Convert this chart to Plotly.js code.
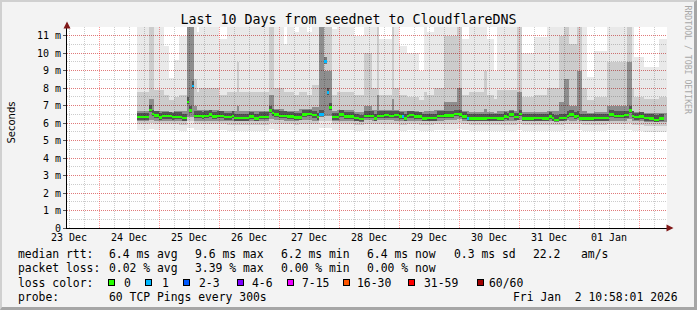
<!DOCTYPE html>
<html><head><meta charset="utf-8">
<script src="https://cdn.plot.ly/plotly-3.0.1.min.js"></script>
<style>
html,body{margin:0;padding:0;background:#f3f3f3;}
#wrap{position:relative;width:697px;height:310px;overflow:hidden;}
#chart{position:absolute;left:0;top:0;width:697px;height:310px;}
#frame{position:absolute;left:0;top:0;width:697px;height:310px;box-sizing:border-box;border-top:2px solid #d0d0d0;border-left:2px solid #d0d0d0;border-right:3px solid #a6a6a6;border-bottom:3px solid #a6a6a6;pointer-events:none;}
</style></head>
<body><div id="wrap"><div id="chart"></div><div id="frame"></div></div>
<script>
// ---------------- DATA ----------------
const titleText = 'Last 10 Days from seednet to CloudflareDNS';
const yTickVals = [0,1,2,3,4,5,6,7,8,9,10,11];
const yTickText = ['0','1 m','2 m','3 m','4 m','5 m','6 m','7 m','8 m','9 m','10 m','11 m'];

// median rtt (ms): step segments, start hour counted from 24 Dec 00:00
const medHour = [15,20,21,22,24,25,29,30,33,35,36,37,38,41,42,44,45,47,50,53,54,60,62,64,68,69,70,72,75,78,81,83,85,87,88,90,91,92,93,96,98,102,104,106,110,111,114,116,118,120,121,122,123,124,126,129,131,135,138,142,144,145,147,148,155,159,162,163,164,166,168,169,174,177,180,181,182,184,187,188,190,191,192,198,204,206,210,212,213,214,216,218,220,222,224];
const medMs = [6.35,6.76,6.53,6.44,6.32,6.40,6.34,6.36,6.29,7.22,6.72,8.14,6.42,6.38,6.42,6.49,6.38,6.42,6.34,6.42,6.30,6.38,6.27,6.36,6.72,6.58,6.49,6.42,6.38,6.32,6.49,6.53,6.45,6.34,6.49,9.53,7.75,6.90,6.34,6.49,6.38,6.30,6.23,6.42,6.27,6.42,6.45,6.42,6.45,6.38,6.38,6.27,6.42,6.45,6.38,6.27,6.30,6.42,6.44,6.53,6.49,6.38,6.27,6.27,6.30,6.27,6.38,6.34,6.49,6.34,6.53,6.27,6.30,6.27,6.38,6.30,6.19,6.30,6.42,6.49,6.38,6.42,6.27,6.30,6.49,6.42,6.45,6.72,6.42,6.34,6.38,6.30,6.27,6.19,6.27];
const medLoss = [0,0,0,0,0,0,0,0,0,0, 0,1,0,0,0,0,0,0,0,0, 0,0,0,0,0,0,0,0,0,0, 0,0,0,0,1,1,1,0,0,0, 0,0,0,0,0,0,0,0,0,0, 1,0,0,0,0,0,0,0,0,0, 0,0,1,0,0,0,0,0,0,0, 0,0,0,0,0,0,0,0,0,0, 0,0,0,0,0,0,0,0,0,0, 0,0,0,0,0];
const medEndHour = 226;

// smoke (ping distribution) segments, start hour from 24 Dec 00:00
const smokeHour = [15,20,22,26,28,30,32,35,38,39,40,48,51,55,56,68,70,74,75,78,80,83,85,88,90,93,95,102,106,109,111,112,117,118,120,123,128,130,131,134,138,143,145,148,154,155,158,159,167,169,174,179,184,186,188,191,193,195,198,203,211,213,214,218,224];
const smokeEndHour = 227;
const smokeMin = [5.6,5.65,5.6,5.6,5.6,5.6,5.55,5.7,5.6,5.6, 5.6,5.6,5.55,5.55,5.55,5.65,5.6,5.6,5.6,5.55, 5.6,5.6,5.6,5.7,5.7,5.6,5.6,5.55,5.6,5.6, 5.6,5.6,5.6,5.6,5.55,5.6,5.55,5.55,5.55,5.6, 5.6,5.65,5.6,5.55,5.55,5.55,5.55,5.55,5.6,5.55, 5.55,5.55,5.55,5.6,5.6,5.6,5.55,5.55,5.55,5.6, 5.6,5.55,5.55,5.5,5.5];
const smokeP10 = [5.95,6.0,5.95,5.95,5.95,5.95,5.9,6.1,5.95,5.95, 5.95,5.95,5.9,5.9,5.9,6.0,5.95,5.95,5.95,5.9, 5.95,5.95,5.95,6.1,6.1,5.95,5.95,5.9,5.95,5.95, 5.95,5.95,5.95,5.95,5.9,5.95,5.9,5.9,5.9,5.95, 5.95,6.0,5.95,5.9,5.9,5.9,5.9,5.9,5.95,5.9, 5.9,5.9,5.9,5.95,5.95,5.95,5.9,5.9,5.9,5.95, 6.0,5.9,5.9,5.85,5.85];
const smokeP25 = [6.15,6.2,6.15,6.15,6.15,6.15,6.1,6.35,6.15,6.15, 6.15,6.15,6.1,6.1,6.1,6.25,6.2,6.15,6.15,6.1, 6.2,6.2,6.15,6.4,6.4,6.15,6.15,6.1,6.2,6.15, 6.2,6.2,6.2,6.15,6.1,6.15,6.1,6.1,6.1,6.15, 6.2,6.25,6.15,6.1,6.1,6.1,6.1,6.1,6.2,6.1, 6.1,6.1,6.1,6.2,6.15,6.2,6.1,6.1,6.1,6.15, 6.25,6.1,6.1,6.05,6.05];
const smokeP75 = [6.7,7.4,6.7,6.7,6.65,6.7,6.7,12,7.0,6.75, 6.75,6.7,6.7,7.0,6.7,7.6,6.8,6.7,6.7,6.7, 6.8,6.8,6.9,12,9.0,6.7,6.75,6.65,7.0,6.75, 7.6,6.75,7.4,6.75,6.7,6.7,6.65,6.7,6.7,6.75, 7.2,8.0,6.7,6.65,6.8,6.65,6.6,6.7,7.8,6.65, 6.65,6.7,7.2,8.5,7.0,9.0,6.7,6.6,6.65,7.0, 9.5,6.7,6.65,6.6,6.6];
const smokeP90 = [7.8,12,7.9,7.6,7.3,7.5,7.6,12,8.5,7.8, 8.0,7.6,7.8,9.5,7.8,12,8.0,7.8,7.8,7.6, 7.8,7.6,8.2,12,12,7.6,7.8,7.6,10.0,8.0, 12,7.6,12,8.0,7.6,7.5,7.3,7.8,7.6,8.0, 11.0,12,7.6,7.8,9.0,7.6,7.4,7.9,12,7.5, 7.6,8.0,11.0,12,10.5,12,8.0,7.3,7.5,9.5, 12,8.0,7.5,7.4,7.5];
const smokeMax = [12,12,12,10.4,8.6,9.6,11.0,12,12,11.2, 12,10.8,12,12,12,12,12,10.5,12,11.2, 12,11.2,12,12,12,11.4,12,11.0,12,12, 12,10.8,12,12,10.4,10.0,9.0,12,11.2,12, 12,12,10.8,12,12,10.8,9.0,12,12,10.0, 10.9,12,12,12,12,12,12,8.65,10.1,12, 12,12,9.8,9.2,10.8];

// legend
const rttLabel = 'median rtt:';
const rttStats = ['6.4 ms avg','9.6 ms max','6.2 ms min','6.4 ms now','0.3 ms sd','22.2','am/s'];
const lossLabel = 'packet loss:';
const lossStats = ['0.02 % avg','3.39 % max','0.00 % min','0.00 % now'];
const colorLabel = 'loss color:';
const lossBinLabels = ['0','1','2-3','4-6','7-15','16-30','31-59','60/60'];
const lossBinLo = [0,1,2,4,7,16,31,60];
const lossBinHi = [0,1,3,6,15,30,59,60];
const lossBinColors = ['#26ff00','#00b8ff','#0059ff','#7e00ff','#ee00ff','#ff5500','#ff0000','#a10000'];
const probeLabel = 'probe:';
const probeText = '60 TCP Pings every 300s';
const stampText = 'Fri Jan  2 10:58:01 2026';
const watermark = 'RRDTOOL / TOBI OETIKER';
const yTitle = 'Seconds';

// ---------------- BUILD ----------------
const H0 = Date.UTC(2025, 11, 24, 0, 0, 0);
const HOUR = 3600000;
const hx = h => H0 + h * HOUR;

const traces = [];
function segBars(starts, endH, loFn, hiFn, color, pick) {
  const xs = [], ws = [], bs = [], hs = [];
  starts.forEach((h, i) => {
    if (pick && !pick(i)) return;
    const e = i + 1 < starts.length ? starts[i + 1] : endH;
    const lo = loFn(i), hi = hiFn(i);
    xs.push(hx((h + e) / 2)); ws.push((e - h) * HOUR); bs.push(lo); hs.push(hi - lo);
  });
  if (!xs.length) return;
  traces.push({type: 'bar', x: xs, y: hs, base: bs, width: ws,
    marker: {color: color, line: {width: 0}}, hoverinfo: 'skip'});
}
// smoke layers (outer to inner)
segBars(smokeHour, smokeEndHour, i => smokeMin[i], i => smokeMax[i], 'rgba(0,0,0,0.085)');
segBars(smokeHour, smokeEndHour, i => smokeP10[i], i => smokeP90[i], 'rgba(0,0,0,0.12)');
segBars(smokeHour, smokeEndHour, i => smokeP25[i], i => smokeP75[i], 'rgba(0,0,0,0.30)');
// dark core around the median
segBars(medHour, medEndHour, i => medMs[i] - 0.15, i => medMs[i] + 0.25, 'rgba(0,0,0,0.40)');
// median, coloured by packet loss (thin stacked blocks as in smokeping)
lossBinColors.forEach((c, b) => {
  segBars(medHour, medEndHour, i => medMs[i] - 0.065, i => medMs[i] + 0.065, c,
    i => medLoss[i] >= lossBinLo[b] && medLoss[i] <= lossBinHi[b]);
});

// pixel -> paper helpers (plot area 67..667 x 27..228)
const PX = p => (p - 67) / 600;
const PY = p => (228 - p) / 201;
const mono = 'DejaVu Sans Mono';
const ann = [];
function txt(text, x, y, opts) {
  ann.push(Object.assign({text: text, xref: 'paper', yref: 'paper', x: PX(x), y: PY(y), showarrow: false,
    xanchor: 'left', yanchor: 'middle', font: {family: mono, size: 11.4, color: '#000'}}, opts || {}));
}
const rowY = [253.5, 268, 282.5, 297];
txt(rttLabel, 16, rowY[0]);
[106.7, 193.3, 279.3, 365, 451.7, 530.7, 579.3].forEach((x, i) => txt(rttStats[i], x, rowY[0]));
txt(lossLabel, 16, rowY[1]);
[107.3, 193.3, 279.3, 365].forEach((x, i) => txt(lossStats[i], x, rowY[1]));
txt(colorLabel, 16, rowY[2]);
const boxX = [111.7, 148.3, 186, 240.7, 290, 346.7, 411, 480.7];
const labX = [121.7, 160, 196.7, 250, 300, 355, 421.7, 487.3];
lossBinLabels.forEach((l, i) => {
  ann.push({text: '\u00a0', xref: 'paper', yref: 'paper', x: PX(boxX[i]), y: PY(rowY[2]), showarrow: false,
    xanchor: 'center', yanchor: 'middle', width: 5, height: 5, borderpad: 0, borderwidth: 1,
    bordercolor: '#000', bgcolor: lossBinColors[i], font: {size: 4}});
  txt(l, labX[i], rowY[2]);
});
txt(probeLabel, 16, rowY[3]);
txt(probeText, 107.3, rowY[3]);
txt(stampText, 680, rowY[3], {xanchor: 'right'});
txt(watermark, 688, 59.5, {xanchor: 'center', textangle: 90, font: {family: mono, size: 8.2, color: '#a8a8a8'}});
txt(yTitle, 10.5, 123, {xanchor: 'center', textangle: -90, font: {family: 'DejaVu Sans', size: 10, color: '#000'}});
// axis arrows
ann.push({text: '', xref: 'paper', yref: 'paper', x: PX(67), y: PY(21.5), ax: 0, ay: 8, showarrow: true,
  arrowhead: 2, arrowsize: 1.4, arrowwidth: 1, arrowcolor: '#801818'});
ann.push({text: '', xref: 'paper', yref: 'paper', x: PX(673.5), y: PY(228), ax: -8, ay: 0, showarrow: true,
  arrowhead: 2, arrowsize: 1.4, arrowwidth: 1, arrowcolor: '#801818'});

const redGrid = 'rgba(255,0,0,0.40)';
const greyGrid = 'rgba(0,0,0,0.2)';
const layout = {
  width: 697, height: 310,
  margin: {l: 67, r: 30, t: 27, b: 82, pad: 0},
  paper_bgcolor: '#f3f3f3', plot_bgcolor: '#ffffff',
  showlegend: false, barmode: 'overlay', bargap: 0,
  font: {family: mono, size: 10, color: '#000'},
  title: {text: titleText, font: {family: mono, size: 13.3, color: '#000'},
    x: 0.5, xref: 'container', xanchor: 'center', y: 1 - 19 / 310, yref: 'container', yanchor: 'middle'},
  xaxis: {type: 'date', range: ['2025-12-23 11:12', '2026-01-02 11:12'],
    tick0: '2025-12-24', dtick: 86400000, tickformat: '%d %b', ticklabelmode: 'period',
    showgrid: true, gridcolor: redGrid, griddash: '1px,1px', gridwidth: 1,
    minor: {tick0: '2025-12-24', dtick: 21600000, showgrid: true, gridcolor: greyGrid, griddash: '1px,1px', gridwidth: 1},
    showline: true, linecolor: '#000', linewidth: 1, ticks: '', zeroline: false, fixedrange: true,
    tickfont: {family: mono, size: 10, color: '#000'}},
  yaxis: {range: [0, 11.5], tickmode: 'array', tickvals: yTickVals, ticktext: yTickText,
    showgrid: true, gridcolor: redGrid, griddash: '1px,1px', gridwidth: 1,
    minor: {dtick: 0.5, showgrid: true, gridcolor: greyGrid, griddash: '1px,1px', gridwidth: 1},
    showline: true, linecolor: '#000', linewidth: 1, ticks: 'outside', ticklen: 3, tickcolor: '#555',
    zeroline: false, fixedrange: true, tickfont: {family: mono, size: 10, color: '#000'}},
  annotations: ann
};
Plotly.newPlot('chart', traces, layout, {staticPlot: true, displayModeBar: false});
</script></body></html>
